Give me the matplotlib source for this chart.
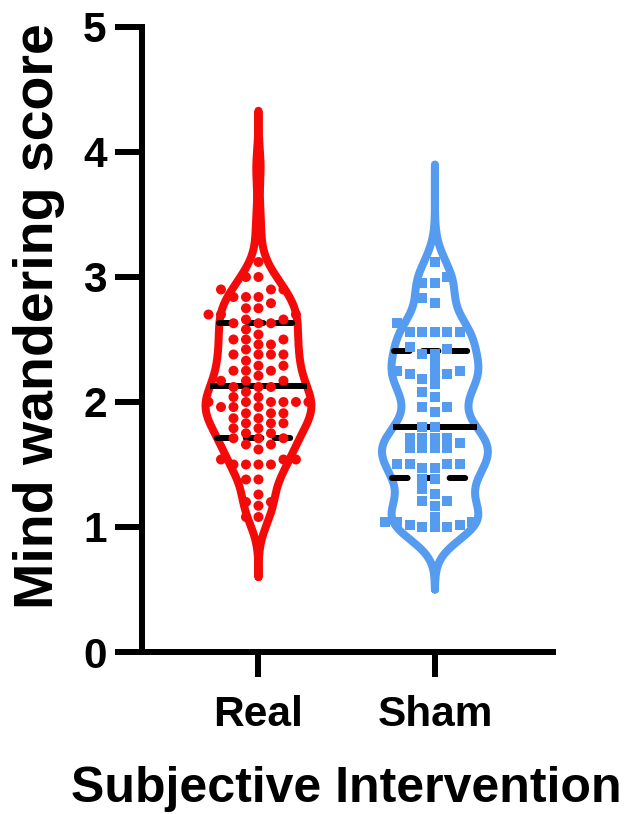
import numpy as np
import matplotlib
matplotlib.use("Agg")
import matplotlib.pyplot as plt

# ---------------- data ----------------
categories = ["Real", "Sham"]

real_scores = [
    3.87, 3.42, 3.12, 3.00, 3.00,
    2.90, 2.90, 2.90, 2.84, 2.84, 2.84, 2.79, 2.75, 2.75,
    2.70, 2.70, 2.70, 2.66, 2.66, 2.63, 2.63, 2.63, 2.58, 2.54,
    2.50, 2.50, 2.50, 2.46, 2.46, 2.42, 2.38, 2.38, 2.38, 2.38,
    2.33, 2.29, 2.29, 2.25, 2.25, 2.25, 2.21, 2.17, 2.17, 2.17,
    2.12, 2.12, 2.12, 2.08, 2.04, 2.04,
    2.00, 2.00, 2.00, 2.00, 2.00, 2.00, 1.96, 1.96, 1.96,
    1.91, 1.91, 1.91, 1.87, 1.87, 1.83, 1.83, 1.83, 1.79, 1.79,
    1.75, 1.75, 1.71, 1.71, 1.71, 1.66, 1.66, 1.62,
    1.54, 1.54, 1.54, 1.50, 1.50, 1.50, 1.50,
    1.38, 1.38, 1.26, 1.20, 1.20, 1.17, 1.08, 1.08,
]

sham_scores = [
    3.12, 3.00, 2.95, 2.95, 2.83, 2.79, 2.63,
    2.56, 2.56, 2.56, 2.56, 2.56, 2.44, 2.42, 2.38, 2.38,
    2.30, 2.25, 2.25, 2.22, 2.22, 2.22, 2.18, 2.14, 2.08, 2.04,
    1.96, 1.96, 1.92, 1.80, 1.80,
    1.71, 1.71, 1.71, 1.71, 1.67, 1.63, 1.63, 1.63, 1.63,
    1.50, 1.50, 1.50, 1.50, 1.47, 1.47, 1.38, 1.38,
    1.30, 1.26, 1.21, 1.21, 1.17, 1.08,
    1.04, 1.04, 1.04, 1.02, 1.02, 1.00, 1.00, 1.00,
]

# 25th percentile, median, 75th percentile
real_quartiles = [1.71, 2.13, 2.63]
sham_quartiles = [1.39, 1.80, 2.41]

# vertical extent of each violin outline
real_extent = [0.60, 4.33]
sham_extent = [0.50, 3.90]

yticks = [0, 1, 2, 3, 4, 5]

# ---------------- styling ----------------
RED = "#F50A0A"
BLUE = "#559BEF"
FONT = "Liberation Sans"
px = 0.72  # points per pixel at dpi 100

fig = plt.figure(figsize=(6.32, 8.14), dpi=100)
ax = fig.add_axes([142 / 632, 1 - 652 / 814, (553 - 142) / 632, (652 - 27) / 814])

ax.set_xlim(-0.660, 1.669)
ax.set_ylim(0, 5)

HALF_W = 0.30      # max half-width of violin (x units)
COL = 0.0708       # swarm column spacing (x units)
BW = 0.15          # KDE bandwidth (score units)


def kde(values, grid, bw):
    v = np.asarray(values)[:, None]
    return np.exp(-0.5 * ((grid[None, :] - v) / bw) ** 2).sum(axis=0)


def swarm(values, step, gap):
    vals = np.asarray(values, dtype=float)
    order = np.argsort(vals, kind="stable")
    cols = {}
    offs = np.zeros(len(vals))
    cand = [0]
    for j in range(1, 12):
        cand += [-j, j]
    for i in order:
        v = vals[i]
        chosen = cand[-1]
        for c in cand:
            if all(abs(v - u) >= gap for u in cols.get(c, [])):
                chosen = c
                break
        cols.setdefault(chosen, []).append(v)
        offs[i] = chosen * step
    return offs


groups = [
    (0, real_scores, real_quartiles, real_extent, RED, "o", 10),
    (1, sham_scores, sham_quartiles, sham_extent, BLUE, "s", 10),
]

for xc, scores, quarts, ext, color, marker, msize in groups:
    grid = np.linspace(ext[0], ext[1], 600)
    dens = kde(scores, grid, BW)
    hw = HALF_W * dens / dens.max()
    xs = np.concatenate([xc + hw, (xc - hw)[::-1], [xc + hw[0]]])
    ys = np.concatenate([grid, grid[::-1], [grid[0]]])
    ax.fill(xs, ys, color="white", zorder=1)
    ax.plot(xs, ys, color=color, lw=8 * px, solid_joinstyle="round",
            solid_capstyle="round", zorder=2)

    # quartile / median lines
    qhw = HALF_W * kde(scores, np.array(quarts), BW) / dens.max()
    for k, (q, w) in enumerate(zip(quarts, qhw)):
        if k == 1:
            ax.plot([xc - w, xc + w], [q, q], color="black", lw=6 * px,
                    solid_capstyle="butt", zorder=3)
        else:
            ax.plot([xc - w, xc + w], [q, q], color="black", lw=6 * px,
                    linestyle=(0, (2.6, 2.2)), dash_capstyle="round", zorder=3)

    offs = swarm(scores, COL, 0.072)
    ax.scatter(xc + offs, scores, s=(msize * px) ** 2, marker=marker, color=color,
               edgecolors="none", zorder=4)

# axes styling
for side in ("top", "right"):
    ax.spines[side].set_visible(False)
for side in ("left", "bottom"):
    ax.spines[side].set_linewidth(6 * px)
    ax.spines[side].set_color("black")

ax.set_yticks(yticks)
ax.set_yticklabels([str(t) for t in yticks], fontfamily=FONT, fontweight="bold",
                   fontsize=30.5)
ax.set_xticks([0, 1])
ax.set_xticklabels(categories, fontfamily=FONT, fontweight="bold", fontsize=30.5)
ax.tick_params(axis="y", length=27 * px, width=6 * px, pad=6)
ax.tick_params(axis="x", length=25 * px, width=6 * px, pad=13)

ax.set_ylabel("Mind wandering score", fontfamily=FONT, fontweight="bold",
              fontsize=40, va="baseline", ha="center")
ax.yaxis.set_label_coords((53 - 142) / 411, (652 - 316) / 625)
ax.set_xlabel("Subjective Intervention", fontfamily=FONT, fontweight="bold",
              fontsize=36, va="baseline", ha="center")
ax.xaxis.set_label_coords((346 - 142) / 411, (652 - 802) / 625)

fig.savefig("out.png", dpi=100, facecolor="white")
